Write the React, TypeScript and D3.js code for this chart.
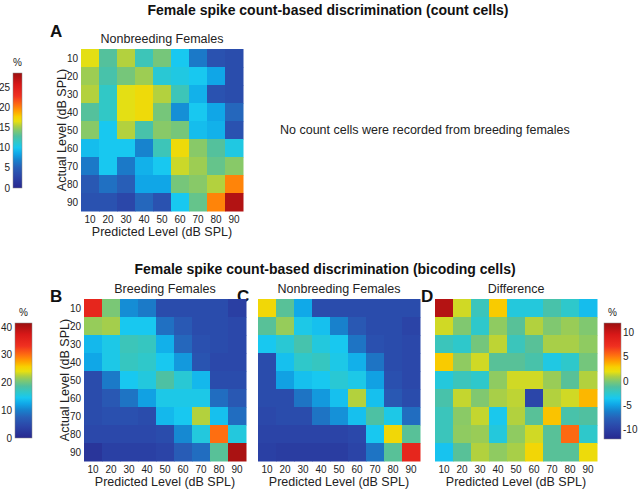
import * as d3 from 'd3';

// sound levels (dB SPL) on both axes
const levels = [10, 20, 30, 40, 50, 60, 70, 80, 90];

// rows = actual level, cols = predicted level, values in %
const countNonbreeding = [
  [16.5, 13, 15.5, 12, 14, 10, 6.5, 4, 3.5],
  [15, 12.5, 14, 15, 11, 10.5, 10, 8.5, 3.5],
  [15.5, 11.5, 16.5, 17, 15.5, 12, 9, 4, 3.5],
  [13, 11.5, 16.5, 17, 14, 7.5, 10, 8.5, 5.5],
  [14.5, 10, 15.5, 12.5, 14.5, 14, 9.5, 9, 4],
  [9.5, 10, 10, 7, 12, 17, 14.5, 13, 10.5],
  [6.5, 10, 6.5, 9, 10, 16, 15, 13.5, 14.5],
  [4.5, 6, 5, 8.5, 8.5, 14, 14.5, 15.5, 20],
  [4, 4, 3, 5.5, 4, 10, 13.5, 20, 27.5],
];

const bicodeBreeding = [
  [35, 20.5, 10.8, 9.5, 5, 5, 5, 5, 3.3],
  [21.5, 22, 14.5, 14.5, 8.7, 6.6, 5, 5, 4.5],
  [13.5, 15, 17.4, 17, 13, 8, 5.5, 5, 4.5],
  [12.4, 15, 17, 16.5, 14.5, 11.5, 6, 4.5, 4.5],
  [5, 9.5, 14.5, 15.5, 18.5, 16, 13.5, 5, 5],
  [5, 6.5, 9, 12, 15, 15, 15, 8.5, 6.5],
  [5, 5.5, 5.5, 5, 13.5, 14.5, 22.5, 14, 8.5],
  [4.5, 4.5, 4.5, 4.5, 5, 10.5, 15.5, 30, 15.5],
  [1.8, 3.5, 3.5, 3.5, 4, 7, 8.5, 19, 40.5],
];

const bicodeNonbreeding = [
  [25, 19, 12.5, 5, 5, 5, 5, 5, 5],
  [19, 21.5, 15, 14, 10, 6.5, 5, 5, 4],
  [14.5, 16, 18, 15.5, 14.5, 9, 5.5, 5, 4.5],
  [5, 14, 16.5, 17, 15, 13, 9, 5, 4.5],
  [5, 12, 14, 14.5, 16, 15, 12, 5.5, 4.5],
  [5, 5, 9, 11.5, 14, 22.5, 14, 6.5, 5],
  [4.5, 5, 5, 9, 11, 14, 18.5, 15, 8.5],
  [4, 4, 4, 4, 4, 4.5, 14.5, 25, 19],
  [3.5, 3, 3, 3, 3, 4, 9, 19, 35],
];

const bicodeDifference = [
  [11, 1.5, -2, 3, -3, -3, -1.5, -2.5, -4],
  [1.5, 0, -2.5, 0.3, -1, 1, 0, 0.5, 0],
  [-2, -2.5, -0.3, 1.2, -2, -1, 0.8, 0.8, 0.3],
  [3, 0.3, 1.5, -1, -1, -1.5, -3.2, -2.5, -0.3],
  [-3, -2, -2.5, 0.3, 1.5, 1.5, 0.5, -1, 1],
  [-1.5, 1.3, 0, 0.8, 1.2, -9.5, 1, 1.5, 3.5],
  [-2, 0.2, 1.3, -3.5, 1, -1, 3.2, -1.5, -1.2],
  [-2, 0.3, 0.5, -3, 0.3, 1.5, -1, 5.5, -2.5],
  [-3.8, -1, 1, 0.3, 0.8, 2.5, -1, -1, 2.2],
];

const countTicks = [0, 5, 10, 15, 20, 25];
const bicodeTicks = [0, 10, 20, 30, 40];
const diffTicks = [-10, -5, 0, 5, 10];

// colormap stops (fraction of range -> colour)
const cmapT = [0, 0.1, 0.18, 0.24, 0.3, 0.35, 0.4, 0.45, 0.5, 0.54, 0.58, 0.62, 0.67, 0.72, 0.8, 0.9, 1];
const cmapC = [
  '#27288f', '#2b45a8', '#2860b8', '#1880cc', '#10a8e8', '#18c8f0', '#30c8c8', '#50c0a0',
  '#80c870', '#b0d040', '#e8e010', '#f8d000', '#ffa000', '#ff7010', '#f03020', '#d81818', '#9b1010',
];

const cmap = d3.scaleLinear<string>().domain(cmapT).range(cmapC).interpolate(d3.interpolateRgb).clamp(true);

const FONT = 'Arial, "Liberation Sans", Helvetica, sans-serif';
const SIZE = 162;
const TEXT = '#222';

function Heatmap({
  left, top, data, domain, title, yAxis,
}: { left: number; top: number; data: number[][]; domain: [number, number]; title: string; yAxis: boolean }) {
  const x = d3.scaleBand<number>().domain(levels).range([left, left + SIZE]);
  const y = d3.scaleBand<number>().domain(levels).range([top, top + SIZE]);
  const t = d3.scaleLinear().domain(domain).range([0, 1]);
  const bw = x.bandwidth();
  return (
    <g fontFamily={FONT}>
      <text x={left + SIZE / 2} y={top - 6} textAnchor="middle" fontSize={12.5} fill={TEXT}>{title}</text>
      {data.map((row, i) =>
        row.map((v, j) => (
          <rect key={`${i}-${j}`} x={x(levels[j])} y={y(levels[i])} width={bw + 0.5} height={bw + 0.5} fill={cmap(t(v))} />
        ))
      )}
      {levels.map((l) => (
        <text key={`x${l}`} x={(x(l) ?? 0) + bw / 2} y={top + SIZE + 12} textAnchor="middle" fontSize={10} fill={TEXT}>{l}</text>
      ))}
      {yAxis && levels.map((l) => (
        <text key={`y${l}`} x={left - 3} y={(y(l) ?? 0) + bw / 2 + 3.5} textAnchor="end" fontSize={10} fill={TEXT}>{l}</text>
      ))}
      <text x={left + SIZE / 2} y={top + SIZE + 25} textAnchor="middle" fontSize={12.5} fill={TEXT}>Predicted Level (dB SPL)</text>
      {yAxis && (
        <text transform={`translate(${left - 15},${top + SIZE / 2}) rotate(-90)`} textAnchor="middle" fontSize={12.5} fill={TEXT}>
          Actual Level (dB SPL)
        </text>
      )}
    </g>
  );
}

function ColorBar({
  id, left, top, width, height, domain, ticks, side,
}: { id: string; left: number; top: number; width: number; height: number; domain: [number, number]; ticks: number[]; side: 'left' | 'right' }) {
  const y = d3.scaleLinear().domain(domain).range([top + height, top]);
  return (
    <g fontFamily={FONT}>
      <defs>
        <linearGradient id={id} x1="0" y1="1" x2="0" y2="0">
          {cmapT.map((s, i) => <stop key={i} offset={s} stopColor={cmapC[i]} />)}
        </linearGradient>
      </defs>
      <text x={left + width / 2} y={top - 7} textAnchor="middle" fontSize={10} fill={TEXT}>%</text>
      <rect x={left} y={top} width={width} height={height} fill={`url(#${id})`} stroke="#888" strokeWidth={0.5} />
      {ticks.map((v) => (
        <text
          key={v}
          x={side === 'left' ? left - 3 : left + width + 2}
          y={y(v) + 3.5}
          textAnchor={side === 'left' ? 'end' : 'start'}
          fontSize={10}
          fill={TEXT}
        >
          {v}
        </text>
      ))}
    </g>
  );
}

export default function App() {
  return (
    <svg width={640} height={489} style={{ position: 'absolute', left: 0, top: 0, background: '#fff' }}>
      <rect width={640} height={489} fill="#fff" />
      <g fontFamily={FONT} fontWeight="bold" fill="#111">
        <text x={328} y={15} textAnchor="middle" fontSize={14}>Female spike count-based discrimination (count cells)</text>
        <text x={325} y={274} textAnchor="middle" fontSize={14}>Female spike count-based discrimination (bicoding cells)</text>
        <text x={50} y={37} fontSize={17}>A</text>
        <text x={50} y={302} fontSize={17}>B</text>
        <text x={237} y={302} fontSize={17}>C</text>
        <text x={421} y={302} fontSize={17}>D</text>
      </g>

      <Heatmap left={81} top={49} data={countNonbreeding} domain={[0, 28.6]} title="Nonbreeding Females" yAxis />
      <ColorBar id="cbA" left={13} top={73} width={9} height={115} domain={[0, 28.6]} ticks={countTicks} side="left" />
      <text x={280} y={134} fontFamily={FONT} fontSize={12.5} fill={TEXT}>No count cells were recorded from breeding females</text>

      <Heatmap left={84} top={299} data={bicodeBreeding} domain={[0, 41.5]} title="Breeding Females" yAxis />
      <Heatmap left={258} top={299} data={bicodeNonbreeding} domain={[0, 41.5]} title="Nonbreeding Females" yAxis={false} />
      <Heatmap left={435} top={299} data={bicodeDifference} domain={[-12, 12]} title="Difference" yAxis={false} />
      <ColorBar id="cbB" left={15} top={323} width={17} height={115} domain={[0, 41.5]} ticks={bicodeTicks} side="left" />
      <ColorBar id="cbD" left={604} top={323} width={17} height={116} domain={[-12, 12]} ticks={diffTicks} side="right" />
    </svg>
  );
}
